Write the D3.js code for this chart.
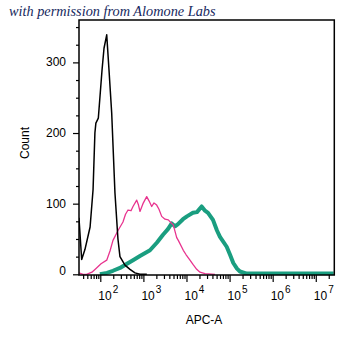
<!DOCTYPE html>
<html>
<head>
<meta charset="utf-8">
<script src="https://cdn.jsdelivr.net/npm/d3@7"></script>
<style>
  body { margin: 0; background: #fff; }
  svg { display: block; }
  text { font-family: "Liberation Sans", Arial, sans-serif; }
</style>
</head>
<body>
<div id="chart"><svg width="355" height="348"></svg></div>
<script>
const svg = d3.select("#chart svg");

// APC-A intensity (x) and count (y) for each histogram
const controlX = [32, 37, 44, 58, 68, 75, 79, 90, 110, 122, 141, 159, 184, 219, 257, 286, 374, 489, 639, 832, 1200];
const controlY = [80, 21, 35, 67, 120, 200, 214, 221, 290, 320, 339, 290, 228, 115, 50, 25, 13, 7, 2, 0, 0];

const pinkX = [32, 40, 48, 64, 82, 104, 141, 168, 197, 258, 336, 385, 440, 516, 574, 700, 770, 833, 978, 1194, 1350, 1560, 1763, 2036, 2300, 2660, 3170, 3785, 4370, 4940, 5930, 6460, 8440, 9730, 12050, 14150, 17270, 20570, 26900, 45800];
const pinkY = [2, 0, 0, 3, 9, 15, 20, 33, 48, 62, 74, 85, 91, 90, 96, 105, 98, 89, 100, 110, 104, 96, 101, 98, 92, 82, 78, 77, 73, 70, 52, 48, 34, 28, 20, 14, 7, 3, 1, 0];

const greenX = [98, 143, 197, 286, 417, 574, 833, 1423, 2070, 2853, 3716, 4540, 5410, 6350, 8300, 10240, 14100, 17500, 22500, 26900, 31600, 41200, 51000, 59900, 85700, 102000, 122000, 148600, 174000, 249000, 507000, 2.6e7];
const greenY = [0, 2, 5, 9, 15, 20, 26, 34, 45, 56, 64, 72, 68, 71, 78, 82, 87, 88, 96, 90, 87, 77, 62, 53, 39, 28, 16, 8, 4, 1, 1, 1];

const xMajor = [2, 3, 4, 5, 6, 7];           // decades 10^n
const yMajor = [0, 100, 200, 300];
const yMinor = [25, 50, 75, 125, 150, 175, 225, 250, 275, 325, 350];

const plotLeft = 79, plotRight = 334.3, plotTop = 20, plotBottom = 274.3;

const x = d3.scaleLog()
    .domain([Math.pow(10, 1.506), Math.pow(10, 7.43)])
    .range([plotLeft, plotRight]);
const y = d3.scaleLinear()
    .domain([0, 360])
    .range([plotBottom, plotTop]);

// minor x ticks 2..9 of every decade inside the range
let xMinor = [];
for (let d = 1; d <= 7; d++) {
    for (let m = 2; m <= 9; m++) {
        let v = m * Math.pow(10, d);
        if (v > x.domain()[0] && v < x.domain()[1]) xMinor.push(v);
    }
}

svg.append("rect")
    .attr("width", 355)
    .attr("height", 348)
    .attr("fill", "#fff");

// watermark
svg.append("text")
    .attr("x", 9)
    .attr("y", 16)
    .style("font-family", "'Liberation Serif', 'DejaVu Serif', serif")
    .attr("font-style", "italic")
    .attr("font-size", "14.3px")
    .attr("fill", "#16285e")
    .text("with permission from Alomone Labs");

// clip for curves
svg.append("clipPath")
    .attr("id", "plotClip")
    .append("rect")
    .attr("x", plotLeft)
    .attr("y", plotTop)
    .attr("width", plotRight - plotLeft)
    .attr("height", plotBottom - plotTop + 1);

const line = d3.line()
    .x(d => x(d[0]))
    .y(d => y(d[1]));

function drawCurve(xs, ys, color, w) {
    let pts = xs.map((v, i) => [v, ys[i]]);
    svg.append("path")
        .datum(pts)
        .attr("clip-path", "url(#plotClip)")
        .attr("fill", "none")
        .attr("stroke", color)
        .attr("stroke-width", w)
        .attr("stroke-linejoin", "round")
        .attr("d", line);
}

drawCurve(greenX, greenY, "#1a9e80", 4);
drawCurve(pinkX, pinkY, "#e8348f", 1.3);
drawCurve(controlX, controlY, "#000", 1.5);

// frame
svg.append("rect")
    .attr("x", plotLeft)
    .attr("y", plotTop)
    .attr("width", plotRight - plotLeft)
    .attr("height", plotBottom - plotTop + 0.7)
    .attr("fill", "none")
    .attr("stroke", "#000")
    .attr("stroke-width", 1.5);

// x axis ticks
const gx = svg.append("g").attr("transform", `translate(0,${plotBottom + 0.7})`);
gx.call(d3.axisBottom(x).tickValues(xMajor.map(n => Math.pow(10, n))).tickSize(7).tickFormat(""));
gx.append("g").call(d3.axisBottom(x).tickValues(xMinor).tickSize(4).tickFormat(""));
gx.selectAll(".domain").remove();
gx.selectAll("line").attr("stroke", "#000").attr("stroke-width", 1.2);

for (let i = 0; i < xMajor.length; i++) {
    let n = xMajor[i];
    let t = svg.append("text")
        .attr("x", x(Math.pow(10, n)) - 2)
        .attr("y", 300)
        .attr("font-size", "12px")
        .attr("fill", "#000");
    t.append("tspan").text("10");
    t.append("tspan")
        .attr("dx", 1)
        .attr("dy", -7)
        .attr("font-size", "10px")
        .text(n);
}

// y axis ticks
const gy = svg.append("g").attr("transform", `translate(${plotLeft},0)`);
gy.call(d3.axisLeft(y).tickValues(yMajor).tickSize(6).tickFormat(""));
gy.append("g").call(d3.axisLeft(y).tickValues(yMinor).tickSize(3).tickFormat(""));
gy.selectAll(".domain").remove();
gy.selectAll("line").attr("stroke", "#000").attr("stroke-width", 1.2);

for (let i = 0; i < yMajor.length; i++) {
    let v = yMajor[i];
    svg.append("text")
        .attr("x", 66)
        .attr("y", y(v) + 4 - (v === 0 ? 3 : 0))
        .attr("text-anchor", "end")
        .attr("font-size", "12px")
        .attr("fill", "#000")
        .text(v);
}

// axis titles
svg.append("text")
    .attr("x", 204)
    .attr("y", 324)
    .attr("text-anchor", "middle")
    .attr("font-size", "12px")
    .attr("fill", "#000")
    .text("APC-A");

svg.append("text")
    .attr("transform", "translate(29,143) rotate(-90)")
    .attr("text-anchor", "middle")
    .attr("font-size", "12px")
    .attr("fill", "#000")
    .text("Count");
</script>
</body>
</html>
